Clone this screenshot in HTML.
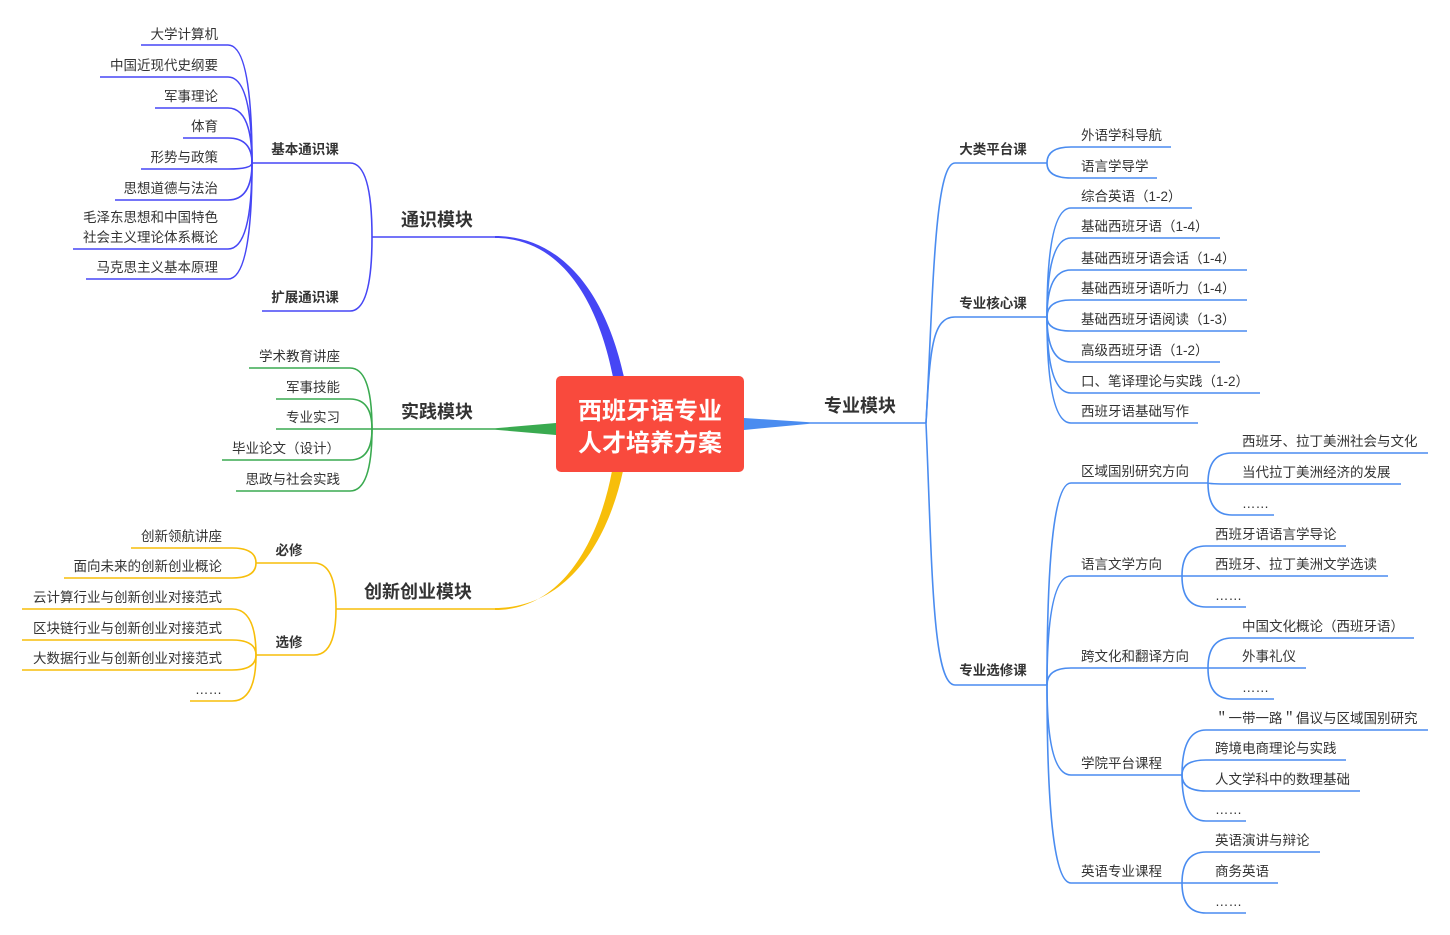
<!DOCTYPE html>
<html><head><meta charset="utf-8"><style>
html,body{margin:0;padding:0;background:#fff;}
svg{display:block;}
text{font-family:"Liberation Sans","Noto Sans CJK SC",sans-serif;fill:#333;font-size:13.5px;}
.b{font-weight:bold;font-size:13.5px;}
.m{font-weight:bold;font-size:18px;}
.r{text-anchor:end;}
.c{text-anchor:middle;}
.bl path{stroke:#4646f5;}
.gr path{stroke:#3aaa50;}
.ye path{stroke:#f7be0a;}
.rb path{stroke:#4a8cf0;}
path{fill:none;stroke-width:1.6;}
</style></head><body>
<svg width="1450" height="935" viewBox="0 0 1450 935">
<g class="bl">
<path d="M141 45 H228 Q252 45 252 163"/>
<path d="M100 77 H228 Q252 77 252 163"/>
<path d="M155 108 H228 Q252 108 252 163"/>
<path d="M183 138 H228 Q252 138 252 163"/>
<path d="M141 169 H228 Q252 169 252 163"/>
<path d="M115 200 H228 Q252 200 252 163"/>
<path d="M73 249 H228 Q252 249 252 163"/>
<path d="M86 279 H228 Q252 279 252 163"/>
<path d="M252 163 H350 Q372 163 372 237"/>
<path d="M262 311 H350 Q372 311 372 237"/>
<path d="M372 237 H495"/>
<path d="M495 236 C560 236 605 290 624 377 L613 377 C596 292 556 238 495 238 Z" style="fill:#4646f5;stroke:none"/>
</g>
<text class="r" x="218" y="39">大学计算机</text>
<text class="r" x="218" y="70">中国近现代史纲要</text>
<text class="r" x="218" y="101">军事理论</text>
<text class="r" x="218" y="131">体育</text>
<text class="r" x="218" y="162">形势与政策</text>
<text class="r" x="218" y="193">思想道德与法治</text>
<text class="r" x="218" y="222">毛泽东思想和中国特色</text>
<text class="r" x="218" y="242">社会主义理论体系概论</text>
<text class="r" x="218" y="272">马克思主义基本原理</text>
<text class="b c" x="305" y="154">基本通识课</text>
<text class="b c" x="305" y="302">扩展通识课</text>
<text class="m c" x="437" y="226">通识模块</text>

<g class="gr">
<path d="M249 368 H350 Q372 368 372 429"/>
<path d="M276 399 H350 Q372 399 372 429"/>
<path d="M276 429 H372"/>
<path d="M222 460 H350 Q372 460 372 429"/>
<path d="M236 491 H350 Q372 491 372 429"/>
<path d="M372 429 H495"/>
<path d="M495 428.3 L556 423 L556 435 L495 429.7 Z" style="fill:#3aaa50;stroke:none"/>
</g>
<text class="r" x="340" y="361">学术教育讲座</text>
<text class="r" x="340" y="392">军事技能</text>
<text class="r" x="340" y="422">专业实习</text>
<text class="r" x="340" y="453">毕业论文（设计）</text>
<text class="r" x="340" y="484">思政与社会实践</text>
<text class="m c" x="437" y="418">实践模块</text>

<g class="ye">
<path d="M131 548 H232 Q256 548 256 563"/>
<path d="M64 578 H232 Q256 578 256 563"/>
<path d="M22 609 H232 Q256 609 256 655"/>
<path d="M22 640 H232 Q256 640 256 655"/>
<path d="M22 670 H232 Q256 670 256 655"/>
<path d="M190 701 H232 Q256 701 256 655"/>
<path d="M256 563 H314 Q336 563 336 609"/>
<path d="M256 655 H314 Q336 655 336 609"/>
<path d="M336 609 H495"/>
<path d="M495 608 C565 608 607 545 623 471 L612 471 C598 545 560 610 495 610 Z" style="fill:#f7be0a;stroke:none"/>
</g>
<text class="r" x="222" y="541">创新领航讲座</text>
<text class="r" x="222" y="571">面向未来的创新创业概论</text>
<text class="r" x="222" y="602">云计算行业与创新创业对接范式</text>
<text class="r" x="222" y="633">区块链行业与创新创业对接范式</text>
<text class="r" x="222" y="663">大数据行业与创新创业对接范式</text>
<text class="r" x="222" y="694">……</text>
<text class="b c" x="289" y="555">必修</text>
<text class="b c" x="289" y="647">选修</text>
<text class="m c" x="418" y="598">创新创业模块</text>

<g class="rb">
<path d="M744 418 L810 422.3 L810 423.7 L744 430 Z" style="fill:#4a8cf0;stroke:none"/>
<path d="M810 423 H926"/>
<path d="M926 423 C933 300 934 163 955 163 H1047"/>
<path d="M926 423 C930 350 932 317 955 317 H1047"/>
<path d="M926 423 C932 560 932 685 955 685 H1047"/>
<path d="M1047 163 Q1047 147 1071 147 H1171"/>
<path d="M1047 163 Q1047 178 1071 178 H1157"/>
<path d="M1047 317 Q1047 208 1071 208 H1192"/>
<path d="M1047 317 Q1047 238 1071 238 H1220"/>
<path d="M1047 317 Q1047 270 1071 270 H1247"/>
<path d="M1047 317 Q1047 300 1071 300 H1247"/>
<path d="M1047 317 Q1047 331 1071 331 H1247"/>
<path d="M1047 317 Q1047 362 1071 362 H1220"/>
<path d="M1047 317 Q1047 393 1071 393 H1260"/>
<path d="M1047 317 Q1047 423 1071 423 H1198"/>
<path d="M1047 685 Q1047 483 1071 483 H1208"/>
<path d="M1047 685 Q1047 576 1071 576 H1182"/>
<path d="M1047 685 Q1047 668 1071 668 H1208"/>
<path d="M1047 685 Q1047 775 1071 775 H1182"/>
<path d="M1047 685 Q1047 883 1071 883 H1182"/>
<path d="M1208 483 Q1208 453 1232 453 H1428"/>
<path d="M1208 483 Q1208 484 1232 484 H1401"/>
<path d="M1208 483 Q1208 515 1232 515 H1274"/>
<path d="M1182 576 Q1182 546 1206 546 H1346"/>
<path d="M1182 576 Q1182 576 1206 576 H1388"/>
<path d="M1182 576 Q1182 607 1206 607 H1246"/>
<path d="M1208 668 Q1208 638 1232 638 H1414"/>
<path d="M1208 668 Q1208 668 1232 668 H1306"/>
<path d="M1208 668 Q1208 699 1232 699 H1274"/>
<path d="M1182 775 Q1182 730 1206 730 H1428"/>
<path d="M1182 775 Q1182 760 1206 760 H1346"/>
<path d="M1182 775 Q1182 791 1206 791 H1360"/>
<path d="M1182 775 Q1182 821 1206 821 H1246"/>
<path d="M1182 883 Q1182 852 1206 852 H1320"/>
<path d="M1182 883 Q1182 883 1206 883 H1278"/>
<path d="M1182 883 Q1182 913 1206 913 H1246"/>
</g>
<rect x="556" y="376" width="188" height="96" rx="5" fill="#f94a3d"/>
<text class="c" x="650" y="419" style="fill:#fff;font-weight:bold;font-size:24px">西班牙语专业</text>
<text class="c" x="650" y="451" style="fill:#fff;font-weight:bold;font-size:24px">人才培养方案</text>
<text class="m c" x="860" y="412">专业模块</text>
<text class="b c" x="993" y="154">大类平台课</text>
<text class="b c" x="993" y="308">专业核心课</text>
<text class="b c" x="993" y="675">专业选修课</text>
<text x="1081" y="140">外语学科导航</text>
<text x="1081" y="171">语言学导学</text>
<text x="1081" y="201">综合英语（1-2）</text>
<text x="1081" y="231">基础西班牙语（1-4）</text>
<text x="1081" y="263">基础西班牙语会话（1-4）</text>
<text x="1081" y="293">基础西班牙语听力（1-4）</text>
<text x="1081" y="324">基础西班牙语阅读（1-3）</text>
<text x="1081" y="355">高级西班牙语（1-2）</text>
<text x="1081" y="386">口、笔译理论与实践（1-2）</text>
<text x="1081" y="416">西班牙语基础写作</text>
<text x="1081" y="476">区域国别研究方向</text>
<text x="1081" y="569">语言文学方向</text>
<text x="1081" y="661">跨文化和翻译方向</text>
<text x="1081" y="768">学院平台课程</text>
<text x="1081" y="876">英语专业课程</text>
<text x="1242" y="446">西班牙、拉丁美洲社会与文化</text>
<text x="1242" y="477">当代拉丁美洲经济的发展</text>
<text x="1242" y="508">……</text>
<text x="1215" y="539">西班牙语语言学导论</text>
<text x="1215" y="569">西班牙、拉丁美洲文学选读</text>
<text x="1215" y="600">……</text>
<text x="1242" y="631">中国文化概论（西班牙语）</text>
<text x="1242" y="661">外事礼仪</text>
<text x="1242" y="692">……</text>
<text x="1215" y="723">＂一带一路＂倡议与区域国别研究</text>
<text x="1215" y="753">跨境电商理论与实践</text>
<text x="1215" y="784">人文学科中的数理基础</text>
<text x="1215" y="814">……</text>
<text x="1215" y="845">英语演讲与辩论</text>
<text x="1215" y="876">商务英语</text>
<text x="1215" y="906">……</text>
</svg>
</body></html>
